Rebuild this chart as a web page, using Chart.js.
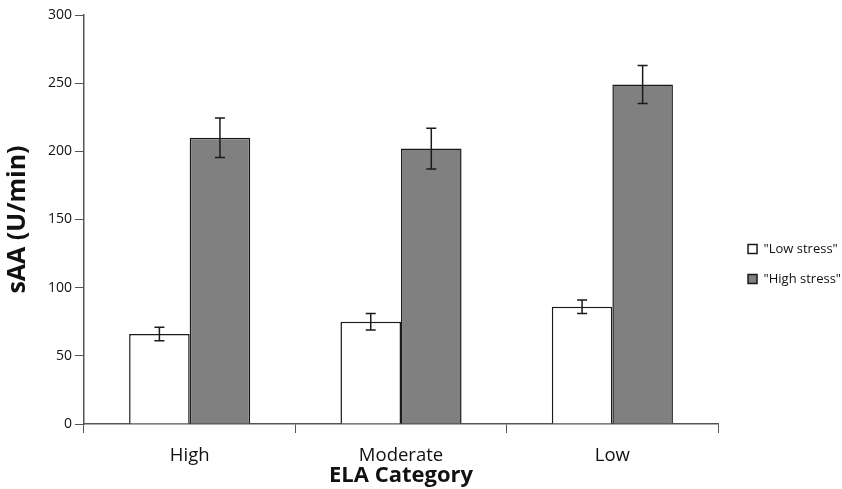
<!DOCTYPE html>
<html>
<head>
<meta charset="utf-8">
<script src="https://cdn.jsdelivr.net/npm/chart.js@4/dist/chart.umd.min.js"></script>
<style>
  html, body { margin: 0; padding: 0; background: #fff; }
  #wrap { width: 842px; height: 489px; }
</style>
</head>
<body>
<div id="wrap"><canvas id="sAAChart" width="842" height="489"></canvas></div>
<script>
// данные с рисунка
const categories = ['High', 'Moderate', 'Low'];
const lowStress = [66, 75, 86];
const lowStressErr = [5, 6, 5];
const highStress = [210, 202, 249];
const highStressErr = [14.5, 15, 14];
const yTicks = [0, 50, 100, 150, 200, 250, 300];

const axisColor = '#555555';
const fontName = "'Open Sans', 'Noto Sans', sans-serif";

// усы погрешностей рисуем через шкалу y
const errorBars = {
    id: 'errorBars',
    afterDatasetsDraw(chart) {
        const ctx = chart.ctx;
        const y = chart.scales.y;
        chart.data.datasets.forEach((ds, i) => {
            const meta = chart.getDatasetMeta(i);
            meta.data.forEach((bar, j) => {
                const v = ds.data[j];
                const e = ds.errors[j];
                const top = y.getPixelForValue(v + e);
                const bottom = y.getPixelForValue(v - e);
                ctx.save();
                ctx.strokeStyle = '#1a1a1a';
                ctx.lineWidth = 1.5;
                ctx.beginPath();
                ctx.moveTo(bar.x, top);
                ctx.lineTo(bar.x, bottom);
                ctx.moveTo(bar.x - 5, top);
                ctx.lineTo(bar.x + 5, top);
                ctx.moveTo(bar.x - 5, bottom);
                ctx.lineTo(bar.x + 5, bottom);
                ctx.stroke();
                ctx.restore();
            });
        });
    }
};

// сдвигаем легенду немного вправо и вниз, как на картинке
const legendShift = {
    id: 'legendShift',
    afterLayout(chart) {
        const lg = chart.legend;
        const dx = chart.chartArea.right + 13 - lg.left;
        lg.left += dx;
        lg.right += dx;
        lg.top += 12;
        lg.bottom += 12;
    }
};

const ctx = document.getElementById('sAAChart').getContext('2d');
const chart = new Chart(ctx, {
    type: 'bar',
    data: {
        labels: categories,
        datasets: [
            {
                label: '"Low stress"',
                data: lowStress,
                errors: lowStressErr,
                backgroundColor: '#ffffff',
                borderColor: '#1a1a1a',
                borderWidth: 1.5
            },
            {
                label: '"High stress"',
                data: highStress,
                errors: highStressErr,
                backgroundColor: '#808080',
                borderColor: '#1a1a1a',
                borderWidth: 1.5
            }
        ]
    },
    options: {
        responsive: false,
        animation: false,
        datasets: {
            bar: { categoryPercentage: 0.573, barPercentage: 1.0 }
        },
        layout: { padding: { top: 15, left: 0, right: 4, bottom: 0 } },
        plugins: {
            tooltip: { enabled: false },
            legend: {
                position: 'right',
                labels: {
                    boxWidth: 9,
                    boxHeight: 9,
                    padding: 17,
                    color: '#111',
                    font: { family: fontName, size: 13 }
                }
            }
        },
        scales: {
            x: {
                afterFit(scale) { scale.height = 65; },
                grid: {
                    offset: true,
                    drawOnChartArea: false,
                    drawTicks: true,
                    tickLength: 9,
                    color: axisColor
                },
                border: { color: axisColor, width: 1.5 },
                ticks: { color: '#111', padding: 12, font: { family: fontName, size: 18.5 } },
                title: {
                    display: true,
                    text: 'ELA Category',
                    color: '#111',
                    padding: { top: 0, bottom: 0 },
                    font: { family: fontName, size: 22, weight: 'bold' }
                }
            },
            y: {
                min: 0,
                max: 300,
                afterFit(scale) { scale.width = 84; },
                afterBuildTicks(scale) {
                    scale.ticks = yTicks.map(v => ({ value: v }));
                },
                grid: {
                    drawOnChartArea: false,
                    drawTicks: true,
                    tickLength: 9,
                    color: axisColor
                },
                border: { color: axisColor, width: 1.5 },
                ticks: { color: '#111', padding: 3, font: { family: fontName, size: 14 } },
                title: {
                    display: true,
                    text: 'sAA (U/min)',
                    color: '#111',
                    padding: { top: 3, bottom: 0 },
                    font: { family: fontName, size: 25, weight: 'bold' }
                }
            }
        }
    },
    plugins: [errorBars, legendShift]
});
</script>
</body>
</html>
